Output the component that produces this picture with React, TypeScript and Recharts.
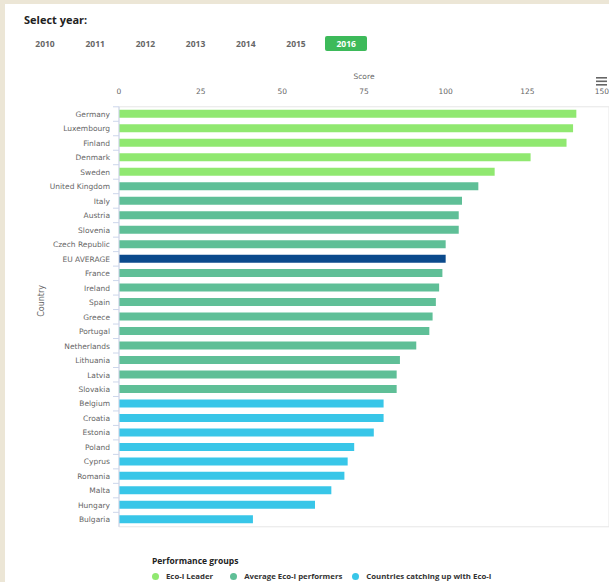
import React from "react";
import { BarChart, Bar, XAxis, YAxis, CartesianGrid, Cell } from "recharts";

const countries = [
  "Germany", "Luxembourg", "Finland", "Denmark", "Sweden", "United Kingdom", "Italy", "Austria",
  "Slovenia", "Czech Republic", "EU AVERAGE", "France", "Ireland", "Spain", "Greece", "Portugal",
  "Netherlands", "Lithuania", "Latvia", "Slovakia", "Belgium", "Croatia", "Estonia", "Poland",
  "Cyprus", "Romania", "Malta", "Hungary", "Bulgaria",
];
const scores = [
  140, 139, 137, 126, 115, 110, 105, 104, 104, 100, 100, 99, 98, 97, 96, 95,
  91, 86, 85, 85, 81, 81, 78, 72, 70, 69, 65, 60, 41,
];
const groups = [
  "leader", "leader", "leader", "leader", "leader", "average", "average", "average",
  "average", "average", "eu", "average", "average", "average", "average", "average",
  "average", "average", "average", "average", "catching", "catching", "catching", "catching",
  "catching", "catching", "catching", "catching", "catching",
];
const scoreTicks = [0, 25, 50, 75, 100, 125, 150];
const years = ["2010", "2011", "2012", "2013", "2014", "2015", "2016"];
const selectedYear = "2016";
const legendItems = [
  { key: "leader", label: "Eco-I Leader" },
  { key: "average", label: "Average Eco-I performers" },
  { key: "catching", label: "Countries catching up with Eco-I" },
];
const groupColors: Record<string, string> = {
  leader: "#90e870",
  average: "#5fbf97",
  catching: "#38c6e8",
  eu: "#0b4a8c",
};

const data = countries.map((c, i) => ({ country: c, score: scores[i], group: groups[i] }));

const FONT = "'DejaVu Sans', Verdana, sans-serif";
const OPEN = "'Open Sans', sans-serif";

const PLOT_H = 420;
const STEP = PLOT_H / countries.length;
const MAX_TICK = scoreTicks[scoreTicks.length - 1];

const CountryTick = (props: any) => {
  const { x, y, payload } = props;
  return (
    <g>
      <line x1={x + 3} x2={x + 9} y1={y - STEP / 2} y2={y - STEP / 2} stroke="#ccd6eb" />
      <text x={x} y={y} dy={2.8} textAnchor="end" fontSize={7.5} fill="#666" fontFamily={FONT}>
        {payload.value}
      </text>
    </g>
  );
};

const ScoreTick = (props: any) => {
  const { x, y, payload } = props;
  const last = payload.value === MAX_TICK;
  return (
    <text x={x} y={y} textAnchor={last ? "end" : "middle"} fontSize={7.5} fill="#666" fontFamily={FONT}>
      {payload.value}
    </text>
  );
};

export default function App() {
  return (
    <div style={{ position: "fixed", left: 0, top: 0, width: 609, height: 582, background: "#ece6d6", overflow: "hidden" }}>
      <div style={{ position: "absolute", left: 5, top: 4, width: 620, height: 590, background: "#fff" }} />
      <div style={{ position: "absolute", left: 24, top: 12, fontFamily: OPEN, fontWeight: 700, fontSize: 11, color: "#222" }}>
        Select year:
      </div>
      {years.map((y, i) => {
        const sel = y === selectedYear;
        const cx = 45 + i * 50.2;
        return (
          <div
            key={y}
            style={{
              position: "absolute",
              left: cx - 21,
              top: 36,
              width: 42,
              height: 15,
              lineHeight: "15px",
              textAlign: "center",
              fontFamily: OPEN,
              fontWeight: 700,
              fontSize: 8.5,
              color: sel ? "#fff" : "#666",
              background: sel ? "#3dba5a" : "transparent",
              borderRadius: 2,
            }}
          >
            {y}
          </div>
        );
      })}
      <div style={{ position: "absolute", left: 596, top: 74 }}>
        <svg width={12} height={12}>
          <rect x={0} y={1} width={11} height={1.6} fill="#666" />
          <rect x={0} y={4.5} width={11} height={1.6} fill="#666" />
          <rect x={0} y={8} width={11} height={1.6} fill="#666" />
        </svg>
      </div>
      <div style={{ position: "absolute", left: 0, top: 60 }}>
        <BarChart
          width={609}
          height={480}
          data={data}
          layout="vertical"
          margin={{ top: 0, right: 0, bottom: 0, left: 0 }}
          barCategoryGap={0}
        >
          <CartesianGrid horizontal={false} stroke="#e6e6e6" />
          <XAxis
            xAxisId="top"
            type="number"
            orientation="top"
            domain={[0, 150]}
            ticks={scoreTicks}
            height={46.8}
            tickSize={0}
            tickMargin={13}
            axisLine={{ stroke: "#e6e6e6" }}
            tickLine={false}
            tick={<ScoreTick />}
            interval={0}
            label={{ value: "Score", position: "insideTop", offset: 14, fontSize: 7.5, fill: "#666", fontFamily: FONT }}
          />
          <XAxis
            xAxisId="bottom"
            type="number"
            orientation="bottom"
            domain={[0, 150]}
            ticks={scoreTicks}
            height={13.2}
            tick={false}
            tickLine={false}
            axisLine={{ stroke: "#e6e6e6" }}
          />
          <YAxis
            type="category"
            dataKey="country"
            width={119}
            tickSize={6}
            tickMargin={3}
            tickLine={false}
            axisLine={{ stroke: "#ccd6eb" }}
            tick={<CountryTick />}
            interval={0}
            label={{ value: "Country", angle: -90, position: "insideLeft", offset: 41, fontSize: 8, fill: "#666", fontFamily: FONT }}
          />
          <Bar dataKey="score" xAxisId="top" barSize={8} isAnimationActive={false}>
            {data.map((d, i) => (
              <Cell key={i} fill={groupColors[d.group]} />
            ))}
          </Bar>
        </BarChart>
      </div>
      <div style={{ position: "absolute", left: 152, top: 555, fontFamily: OPEN, fontWeight: 700, fontSize: 8.5, color: "#222" }}>
        Performance groups
      </div>
      <div style={{ position: "absolute", left: 152, top: 571, display: "flex", fontFamily: OPEN, fontWeight: 700, fontSize: 7.8, color: "#333" }}>
        {legendItems.map((it, i) => (
          <div key={it.key} style={{ display: "flex", alignItems: "center", marginRight: i === 0 ? 17 : 10 }}>
            <span style={{ width: 7, height: 7, borderRadius: 4, background: groupColors[it.key], display: "inline-block", marginRight: 7 }} />
            {it.label}
          </div>
        ))}
      </div>
    </div>
  );
}
